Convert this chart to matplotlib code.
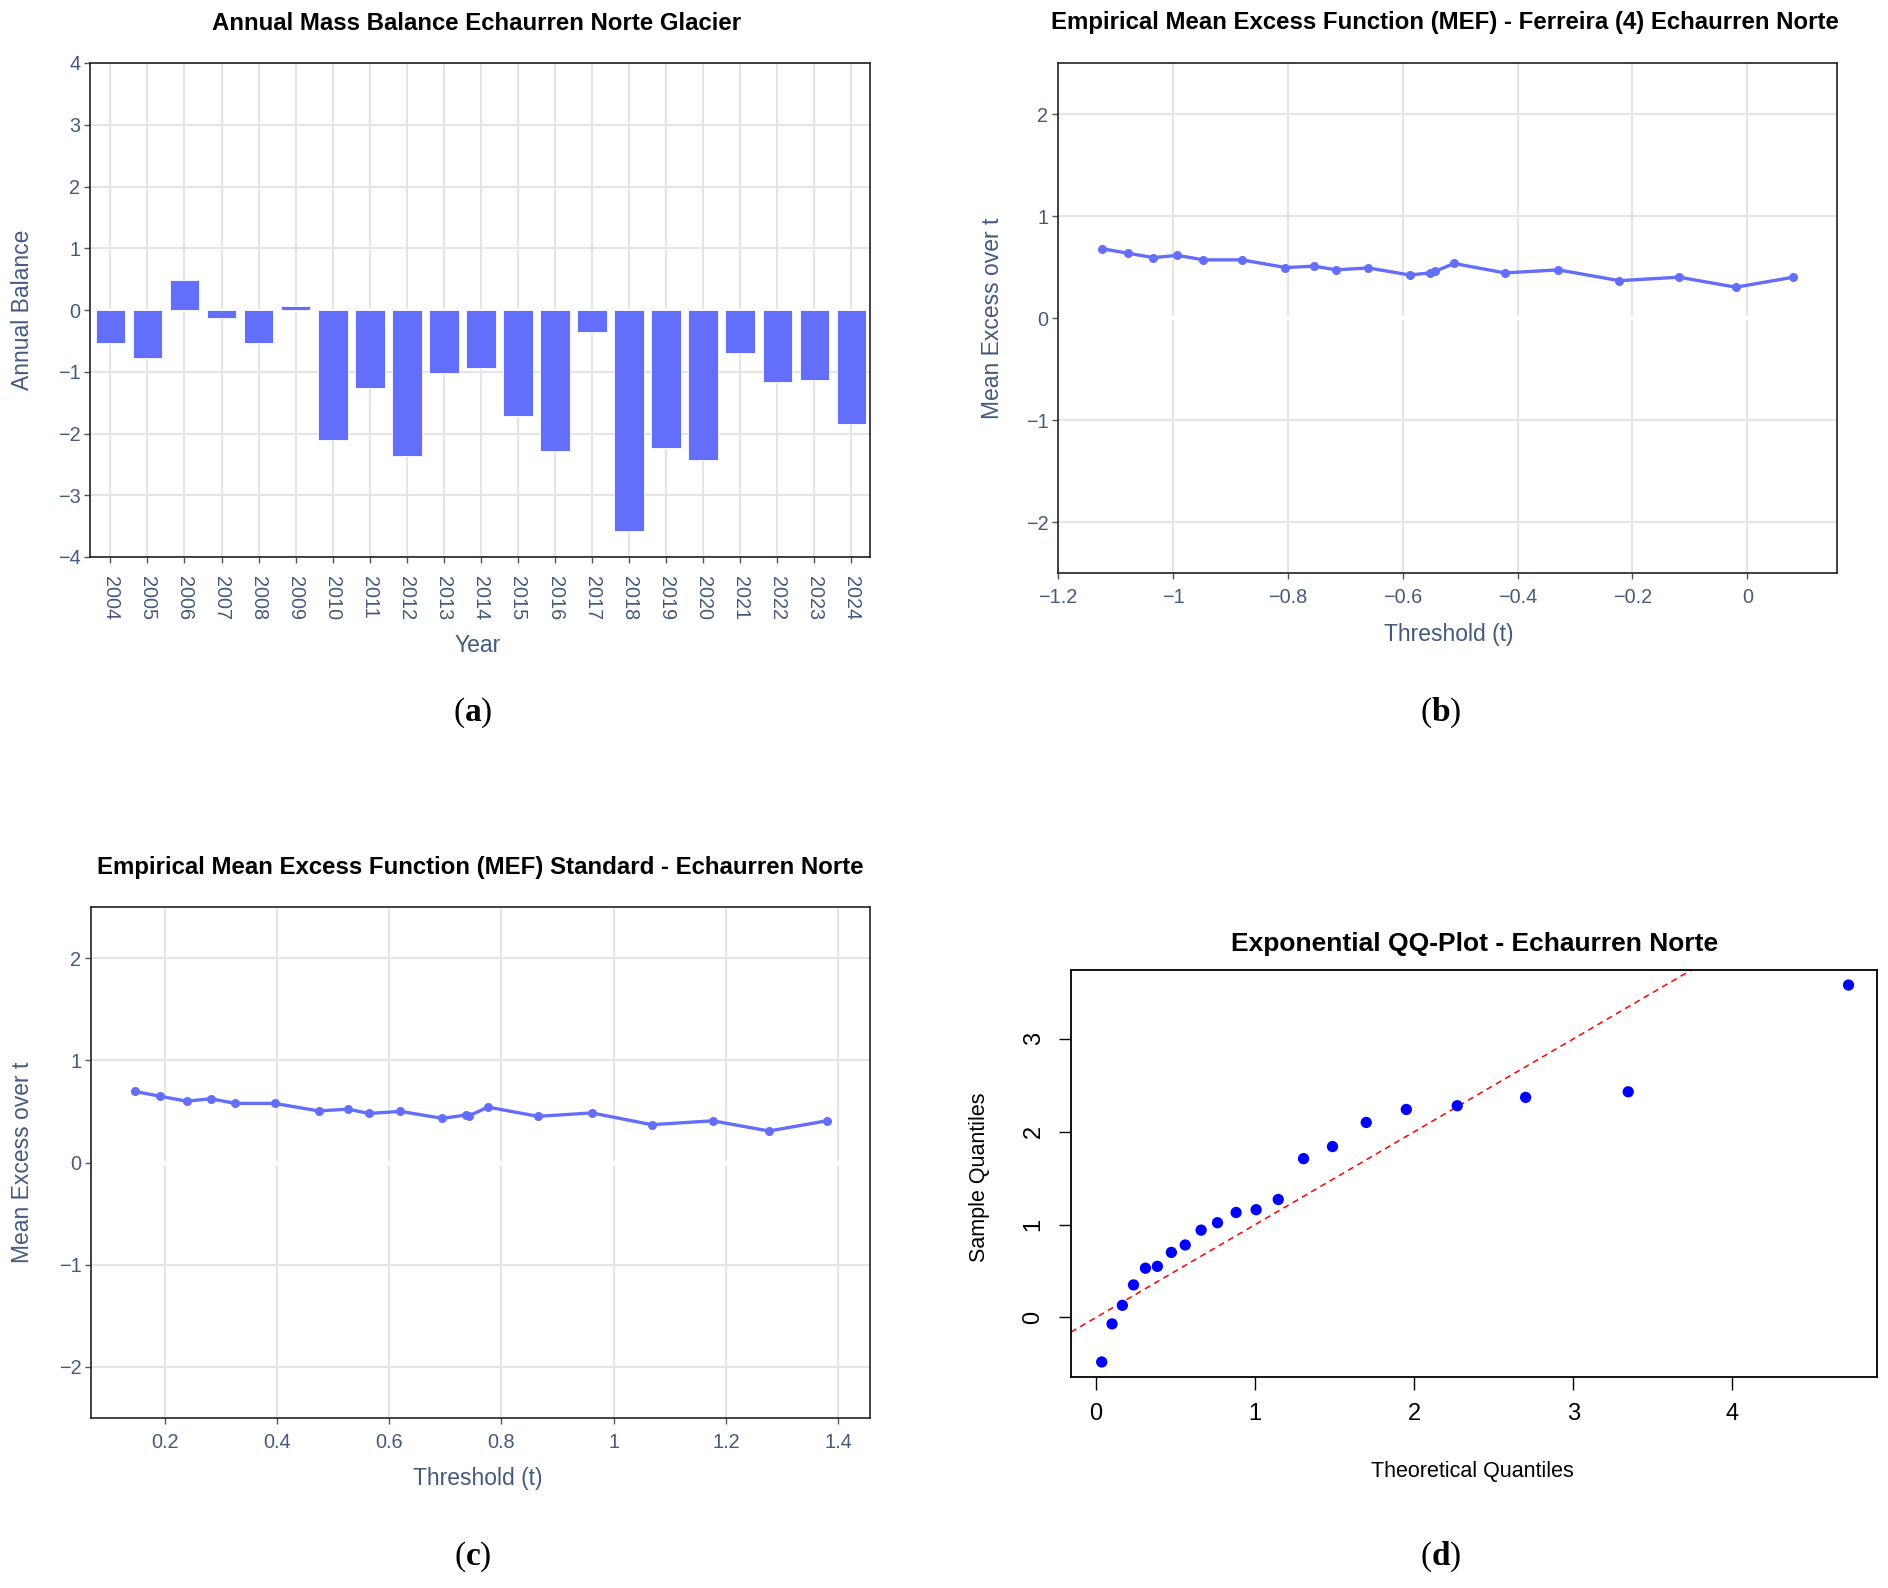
import numpy as np
import matplotlib
matplotlib.use('Agg')
import matplotlib.pyplot as plt
from matplotlib.ticker import FuncFormatter

plt.rcParams['font.family'] = ['Liberation Sans', 'DejaVu Sans']
plt.rcParams['mathtext.fontset'] = 'custom'
plt.rcParams['mathtext.rm'] = 'Liberation Serif'
plt.rcParams['mathtext.bf'] = 'Liberation Serif:bold'

# data
years = [str(y) for y in range(2004, 2025)]
balance = [-0.54, -0.78, 0.48, -0.13, -0.54, 0.07, -2.10, -1.27, -2.37, -1.02, -0.94,
           -1.71, -2.28, -0.35, -3.58, -2.24, -2.43, -0.70, -1.16, -1.13, -1.84]

thr_ferreira = [-1.124, -1.079, -1.034, -0.992, -0.947, -0.880, -0.804, -0.754, -0.716, -0.660,
                -0.588, -0.552, -0.543, -0.511, -0.422, -0.329, -0.223, -0.119, -0.020, 0.080]
mef_ferreira = [0.680, 0.636, 0.592, 0.614, 0.570, 0.570, 0.495, 0.508, 0.472, 0.491,
                0.422, 0.442, 0.458, 0.535, 0.442, 0.472, 0.366, 0.400, 0.302, 0.400]

thr_standard = [0.147, 0.192, 0.239, 0.282, 0.326, 0.396, 0.474, 0.526, 0.564, 0.620,
                0.695, 0.737, 0.742, 0.776, 0.865, 0.961, 1.068, 1.177, 1.277, 1.380]
mef_standard = [0.695, 0.648, 0.600, 0.624, 0.578, 0.578, 0.505, 0.522, 0.480, 0.500,
                0.432, 0.465, 0.456, 0.542, 0.452, 0.485, 0.370, 0.408, 0.308, 0.408]

theo_q = [0.035, 0.100, 0.165, 0.235, 0.310, 0.385, 0.473, 0.560, 0.660, 0.763, 0.880,
          1.006, 1.145, 1.304, 1.486, 1.698, 1.950, 2.270, 2.700, 3.345, 4.730]
sample_q = [-0.48, -0.07, 0.13, 0.35, 0.53, 0.55, 0.70, 0.78, 0.94, 1.02, 1.13,
            1.16, 1.27, 1.71, 1.84, 2.10, 2.24, 2.28, 2.37, 2.43, 3.58]

W, H = 1888, 1588
BLUE = '#636efa'
TXT = '#445a7c'
GRID = '#e5e5e5'


def box(l, t, r, b):
    return [l / W, 1 - b / H, (r - l) / W, (b - t) / H]


def put(fig, x, y, s, **kw):
    fig.text(x / W, 1 - y / H, s, ha='center', va='center', **kw)


def minus_fmt(v, pos):
    s = ('%.1f' % v).rstrip('0').rstrip('.')
    if s == '-0':
        s = '0'
    return s.replace('-', '\u2212')


def plotly_style(ax):
    ax.set_facecolor('white')
    for sp in ax.spines.values():
        sp.set_color('#222222')
        sp.set_linewidth(1.2)
    ax.grid(True, color=GRID, linewidth=1.5, zorder=0)
    ax.set_axisbelow(True)
    ax.tick_params(length=4, width=1, color='#555555', labelcolor=TXT, labelsize=14.3, pad=3)


fig = plt.figure(figsize=(W / 100, H / 100), dpi=100)

# (a) annual balance bars
ax1 = fig.add_axes(box(90, 63, 870, 557))
plotly_style(ax1)
xs = np.arange(len(years))
ax1.axhline(0, color='white', linewidth=2, zorder=1)
ax1.bar(xs, balance, width=0.8, color=BLUE, edgecolor='white', linewidth=0.6, zorder=2)
ax1.set_xlim(-0.55, len(years) - 0.5)
ax1.set_ylim(-4, 4)
ax1.set_yticks(range(-4, 5))
ax1.yaxis.set_major_formatter(FuncFormatter(minus_fmt))
ax1.set_xticks(xs)
ax1.set_xticklabels(years, rotation=-90)
ax1.tick_params(axis='x', pad=10)
put(fig, 477, 23, 'Annual Mass Balance Echaurren Norte Glacier', fontsize=17.3, fontweight='bold')
put(fig, 478, 646, 'Year', fontsize=16.5, color=TXT)
put(fig, 23, 310, 'Annual Balance', fontsize=16.5, color=TXT, rotation=90)


def mef_panel(rect, thr, mef, xlim, xticks):
    ax = fig.add_axes(rect)
    plotly_style(ax)
    ax.axhline(0, color='white', linewidth=3, zorder=1)
    ax.plot(thr, mef, color=BLUE, linewidth=2.4, marker='o', markersize=6.5,
            markeredgewidth=0, zorder=3)
    ax.set_xlim(*xlim)
    ax.set_ylim(-2.5, 2.5)
    ax.set_yticks([-2, -1, 0, 1, 2])
    ax.set_xticks(xticks)
    ax.xaxis.set_major_formatter(FuncFormatter(minus_fmt))
    ax.yaxis.set_major_formatter(FuncFormatter(minus_fmt))
    ax.tick_params(axis='x', pad=7)
    return ax


# (b) MEF Ferreira
ax2 = mef_panel(box(1058, 63, 1837, 573), thr_ferreira, mef_ferreira,
                (-1.2, 0.156), [-1.2, -1.0, -0.8, -0.6, -0.4, -0.2, 0.0])
put(fig, 1445, 23, 'Empirical Mean Excess Function (MEF) - Ferreira (4) Echaurren Norte',
    fontsize=17.3, fontweight='bold')
put(fig, 1449, 635, 'Threshold (t)', fontsize=16.5, color=TXT)
put(fig, 992, 318, 'Mean Excess over t', fontsize=16.5, color=TXT, rotation=90)

# (c) MEF standard
ax3 = mef_panel(box(91, 907, 870, 1418), thr_standard, mef_standard,
                (0.0685, 1.457), [0.2, 0.4, 0.6, 0.8, 1.0, 1.2, 1.4])
put(fig, 480, 867, 'Empirical Mean Excess Function (MEF) Standard - Echaurren Norte',
    fontsize=17.3, fontweight='bold')
put(fig, 478, 1478, 'Threshold (t)', fontsize=16.5, color=TXT)
put(fig, 23, 1162, 'Mean Excess over t', fontsize=16.5, color=TXT, rotation=90)

# (d) exponential QQ plot, base R look
ax4 = fig.add_axes(box(1071, 970, 1877, 1377))
for sp in ax4.spines.values():
    sp.set_color('black')
    sp.set_linewidth(1.3)
ax4.scatter(theo_q, sample_q, s=66, color='#0000ff', edgecolors='none', zorder=3)
ax4.set_xlim(-0.158, 4.909)
ax4.set_ylim(-0.642, 3.742)
lim = np.array(ax4.get_xlim())
ax4.plot(lim, lim, color='red', linestyle=(0, (4, 3)), linewidth=1.1, zorder=2)
ax4.set_xlim(-0.158, 4.909)
ax4.set_xticks([0, 1, 2, 3, 4])
ax4.set_yticks([0, 1, 2, 3])
ax4.tick_params(length=9, width=1, labelsize=17, pad=10)
for lab in ax4.get_yticklabels():
    lab.set_rotation(90)
    lab.set_va('center')
put(fig, 1475, 944, 'Exponential QQ-Plot - Echaurren Norte', fontsize=19, fontweight='bold')
put(fig, 1472, 1472, 'Theoretical Quantiles', fontsize=15.5)
put(fig, 979, 1177, 'Sample Quantiles', fontsize=15.5, rotation=90)

# panel letters
for x, y, s in [(473, 713, 'a'), (1441, 713, 'b'), (473, 1557, 'c'), (1441, 1557, 'd')]:
    put(fig, x, y, r'($\mathbf{%s}$)' % s, fontsize=24, family='Liberation Serif')

fig.savefig('out.png', dpi=100, facecolor='white')
